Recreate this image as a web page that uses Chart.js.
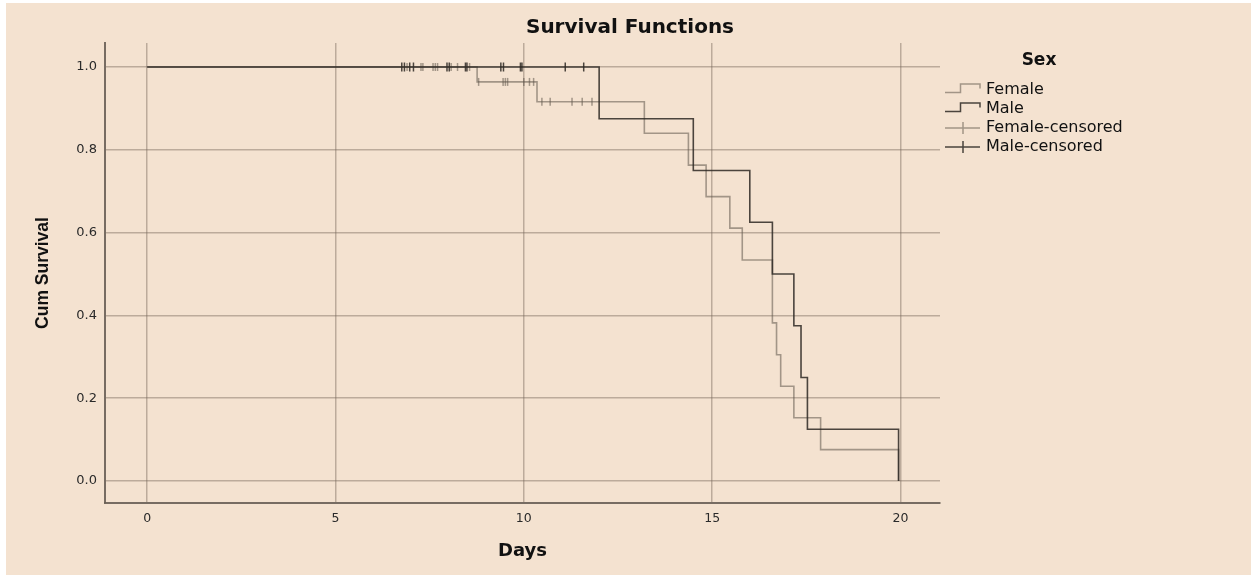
<!DOCTYPE html>
<html>
<head>
<meta charset="utf-8">
<script src="https://cdn.jsdelivr.net/npm/chart.js@4.4.1/dist/chart.umd.min.js"></script>
<style>
  html, body { margin: 0; padding: 0; background: #ffffff; }
  #bg { position: absolute; left: 6px; top: 3px; width: 1245px; height: 572px; background: #F4E2D0; }
  #wrap { position: absolute; left: 0; top: 0; width: 1251px; height: 575px; }
</style>
</head>
<body>
<div id="bg"></div>
<div id="wrap"><canvas id="c" width="1251" height="575"></canvas></div>
<script>
// ---- data ----
const xTickValues = [0, 5, 10, 15, 20];
const yTickValues = [0.0, 0.2, 0.4, 0.6, 0.8, 1.0];

const femaleDays     = [0, 8.76, 10.35, 13.2, 14.37, 14.84, 15.47, 15.8, 16.6, 16.71, 16.82, 17.17, 17.88, 19.95];
const femaleSurvival = [1, 0.964, 0.916, 0.840, 0.763, 0.687, 0.611, 0.534, 0.382, 0.305, 0.229, 0.153, 0.076, 0];

const maleDays     = [0, 12.0, 14.5, 16.0, 16.6, 17.17, 17.36, 17.53, 19.95];
const maleSurvival = [1, 0.875, 0.75, 0.625, 0.5, 0.375, 0.25, 0.125, 0];

const femaleCensoredDays     = [6.90, 7.27, 7.32, 7.59, 7.65, 7.71, 8.07, 8.24, 8.56, 8.80, 9.45, 9.51, 9.57, 10.0, 10.15, 10.26, 10.48, 10.70, 11.28, 11.55, 11.81];
const femaleCensoredSurvival = [1, 1, 1, 1, 1, 1, 1, 1, 1, 0.964, 0.964, 0.964, 0.964, 0.964, 0.964, 0.964, 0.916, 0.916, 0.916, 0.916, 0.916];

const maleCensoredDays     = [6.76, 6.83, 6.97, 7.07, 7.96, 8.02, 8.45, 8.49, 9.39, 9.46, 9.91, 9.95, 11.10, 11.59];
const maleCensoredSurvival = [1, 1, 1, 1, 1, 1, 1, 1, 1, 1, 1, 1, 1, 1];

const legendLabels = ['Female', 'Male', 'Female-censored', 'Male-censored'];
const chartTitle = 'Survival Functions';
const legendTitle = 'Sex';
const xTitle = 'Days';
const yTitle = 'Cum Survival';

// ---- styles ----
const FEMALE_COLOR = 'rgba(95,85,75,0.55)';
const MALE_COLOR = 'rgba(45,40,35,0.85)';
const GRID_COLOR = 'rgba(120,105,90,0.45)';
const AXIS_COLOR = 'rgba(105,95,85,0.9)';

const pts = (xs, ys) => xs.map((x, i) => ({ x: x, y: ys[i] }));

const decorPlugin = {
  id: 'decor',
  afterDraw(chart) {
    const ctx = chart.ctx;
    ctx.save();
    // chart title
    ctx.fillStyle = '#111';
    ctx.textAlign = 'center';
    ctx.textBaseline = 'middle';
    ctx.font = 'bold 20px "DejaVu Sans"';
    ctx.fillText(chartTitle, 630, 28);
    // legend title
    ctx.font = 'bold 17px "DejaVu Sans"';
    ctx.fillText(legendTitle, 1039, 61);
    // legend entries
    ctx.textAlign = 'left';
    ctx.font = '16px "DejaVu Sans"';
    const rows = [90, 109, 128, 147];
    const cols = [FEMALE_COLOR, MALE_COLOR, FEMALE_COLOR, MALE_COLOR];
    rows.forEach((y, i) => {
      ctx.fillStyle = '#111';
      ctx.fillText(legendLabels[i], 986, y);
      ctx.strokeStyle = cols[i];
      ctx.lineWidth = 1.5;
      ctx.beginPath();
      if (i < 2) {
        const lo = y + 2.5, hi = y - 6;
        ctx.moveTo(945, lo);
        ctx.lineTo(960.5, lo);
        ctx.lineTo(960.5, hi);
        ctx.lineTo(980, hi);
        ctx.lineTo(980, hi + 4.5);
      } else {
        ctx.moveTo(945, y);
        ctx.lineTo(980, y);
        ctx.moveTo(963, y - 6);
        ctx.lineTo(963, y + 6);
      }
      ctx.stroke();
    });
    ctx.restore();
  }
};

Chart.defaults.font.family = '"DejaVu Sans", sans-serif';

new Chart(document.getElementById('c'), {
  type: 'line',
  data: {
    datasets: [
      {
        label: legendLabels[1],
        data: pts(maleDays, maleSurvival),
        stepped: 'before',
        borderColor: MALE_COLOR,
        borderWidth: 1.6,
        pointRadius: 0,
        fill: false
      },
      {
        label: legendLabels[0],
        data: pts(femaleDays, femaleSurvival),
        stepped: 'before',
        borderColor: FEMALE_COLOR,
        borderWidth: 1.6,
        pointRadius: 0,
        fill: false
      },
      {
        label: legendLabels[3],
        data: pts(maleCensoredDays, maleCensoredSurvival),
        showLine: false,
        pointStyle: 'line',
        rotation: 90,
        pointRadius: 4.5,
        pointBorderWidth: 1.5,
        borderColor: MALE_COLOR,
        pointBorderColor: MALE_COLOR
      },
      {
        label: legendLabels[2],
        data: pts(femaleCensoredDays, femaleCensoredSurvival),
        showLine: false,
        pointStyle: 'line',
        rotation: 90,
        pointRadius: 4,
        pointBorderWidth: 1.5,
        borderColor: FEMALE_COLOR,
        pointBorderColor: FEMALE_COLOR
      }
    ]
  },
  options: {
    responsive: false,
    animation: false,
    events: [],
    layout: { padding: { left: 0, right: 311, top: 43, bottom: 0 } },
    plugins: {
      legend: { display: false },
      title: { display: false },
      tooltip: { enabled: false }
    },
    scales: {
      x: {
        type: 'linear',
        min: -1.12,
        max: 21.05,
        afterFit(scale) { scale.height = 72; },
        afterBuildTicks(scale) { scale.ticks = xTickValues.map(v => ({ value: v })); },
        grid: { color: GRID_COLOR, lineWidth: 1.5, drawTicks: false },
        border: { display: true, color: AXIS_COLOR, width: 2 },
        ticks: {
          padding: 8,
          color: '#2a2a2a',
          font: { size: 12.5 },
          maxRotation: 0,
          callback: (v) => String(v)
        },
        title: {
          display: true,
          text: xTitle,
          color: '#111',
          font: { size: 18, weight: 'bold' },
          padding: { top: 0, bottom: 13 }
        }
      },
      y: {
        type: 'linear',
        min: -0.053,
        max: 1.058,
        afterFit(scale) { scale.width = 105; },
        afterBuildTicks(scale) { scale.ticks = yTickValues.map(v => ({ value: v })); },
        grid: { color: GRID_COLOR, lineWidth: 1.5, drawTicks: false },
        border: { display: true, color: AXIS_COLOR, width: 2 },
        ticks: {
          padding: 8,
          color: '#2a2a2a',
          font: { size: 13 },
          callback: (v) => Number(v).toFixed(1)
        },
        title: {
          display: true,
          text: yTitle,
          color: '#111',
          font: { family: '"Liberation Sans", Arial, sans-serif', size: 17.5, weight: 'bold' },
          padding: { top: 33, bottom: 0 }
        }
      }
    }
  },
  plugins: [decorPlugin]
});
</script>
</body>
</html>
